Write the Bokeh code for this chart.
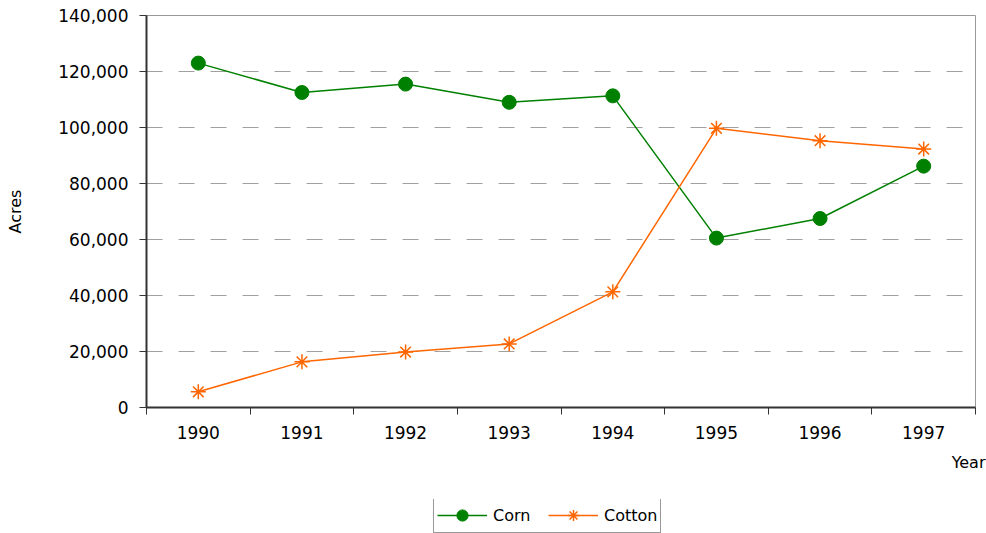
import numpy as np
from bokeh.plotting import figure
from bokeh.layouts import column
from bokeh.models import (Range1d, FixedTicker, NumeralTickFormatter, Legend,
                          LegendItem, Title)
from bokeh.embed import file_html
from bokeh.resources import INLINE

years = ["1990", "1991", "1992", "1993", "1994", "1995", "1996", "1997"]
corn = [123000, 112500, 115500, 109000, 111300, 60500, 67500, 86200]
cotton = [5600, 16300, 19800, 22700, 41300, 99700, 95300, 92300]
y_ticks = [0, 20000, 40000, 60000, 80000, 100000, 120000, 140000]

FONT = "DejaVu Sans"
CORN_C = "#008000"
COTTON_C = "#FF6600"
xs = np.arange(len(years)) + 0.5

p = figure(frame_width=829, frame_height=392, x_range=Range1d(0, len(years)),
           y_range=Range1d(0, 140000), output_backend="svg",
           toolbar_location=None, min_border_left=146, min_border_right=11,
           min_border_top=15, min_border_bottom=92)
p.background_fill_color = "white"
p.border_fill_color = "white"
p.outline_line_color = "#999999"
p.outline_line_width = 1

# grid
p.xgrid.visible = False
p.ygrid.ticker = FixedTicker(ticks=y_ticks)
p.ygrid.grid_line_color = "#a0a0a0"
p.ygrid.grid_line_dash = "16 16"
p.ygrid.grid_line_width = 1

# x axis
xa = p.xaxis[0]
xa.ticker = FixedTicker(ticks=list(xs), minor_ticks=list(range(len(years) + 1)))
xa.major_label_overrides = {float(x): y for x, y in zip(xs, years)}
xa.major_tick_out = 0
xa.major_tick_in = 0
xa.minor_tick_out = 7
xa.minor_tick_in = 0
xa.minor_tick_line_color = "#333333"
xa.minor_tick_line_width = 1
xa.axis_line_color = "#333333"
xa.axis_line_width = 2
xa.major_label_standoff = 11
xa.major_label_text_font = FONT
xa.major_label_text_font_size = "17px"
xa.major_label_text_color = "black"

# y axis
ya = p.yaxis[0]
ya.ticker = FixedTicker(ticks=y_ticks)
ya.formatter = NumeralTickFormatter(format="0,0")
ya.major_tick_out = 7
ya.major_tick_in = 0
ya.minor_tick_out = 0
ya.minor_tick_in = 0
ya.major_tick_line_color = "#333333"
ya.axis_line_color = "#333333"
ya.axis_line_width = 2
ya.major_label_standoff = 11
ya.major_label_text_font = FONT
ya.major_label_text_font_size = "17px"
ya.major_label_text_color = "black"
ya.axis_label = "Acres"
ya.axis_label_text_font = FONT
ya.axis_label_text_font_size = "16px"
ya.axis_label_text_font_style = "normal"
ya.axis_label_text_color = "black"
ya.axis_label_standoff = 30

# series
p.line(xs, corn, line_color=CORN_C, line_width=1.5)
p.scatter(xs, corn, marker="circle", size=14, fill_color=CORN_C,
          line_color=CORN_C)
p.line(xs, cotton, line_color=COTTON_C, line_width=1.5)
p.scatter(xs, cotton, marker="asterisk", size=15, line_color=COTTON_C,
          line_width=1.5)

year_title = Title(text="Year", align="right", offset=-10,
                   text_font=FONT, text_font_size="16px",
                   text_font_style="normal", text_color="black",
                   standoff=18)
p.add_layout(year_title, "below")

# legend strip below the chart (same series, drawn out of its view range)
lg = figure(width=986, height=34, x_range=Range1d(-2, -1), y_range=Range1d(-2, -1),
            x_axis_location=None, y_axis_location=None, min_border=0,
            toolbar_location=None, output_backend="svg")
lg.outline_line_color = None
lg.grid.visible = False
lg.background_fill_color = "white"
lg.border_fill_color = "white"
dl1 = lg.line(xs, corn, line_color=CORN_C, line_width=1.5)
ds1 = lg.scatter(xs, corn, marker="circle", fill_color=CORN_C,
                 line_color=CORN_C)
dl2 = lg.line(xs, cotton, line_color=COTTON_C, line_width=1.5)
ds2 = lg.scatter(xs, cotton, marker="asterisk", line_color=COTTON_C,
                 line_width=1.5)

legend = Legend(items=[LegendItem(label="Corn", renderers=[dl1, ds1]),
                       LegendItem(label="Cotton", renderers=[dl2, ds2])],
                orientation="horizontal", location=(287, 0))
legend.border_line_color = "#333333"
legend.border_line_width = 1
legend.padding = 3
legend.spacing = 9
legend.margin = 0
legend.glyph_width = 50
legend.glyph_height = 28
legend.label_standoff = 6
legend.label_width = 46
legend.label_text_font = FONT
legend.label_text_font_size = "16px"
legend.label_text_color = "black"
legend.background_fill_color = "white"
legend.background_fill_alpha = 1
lg.add_layout(legend)

layout = column(p, lg, spacing=0)
open("out.html", "w").write(file_html(layout, INLINE))
